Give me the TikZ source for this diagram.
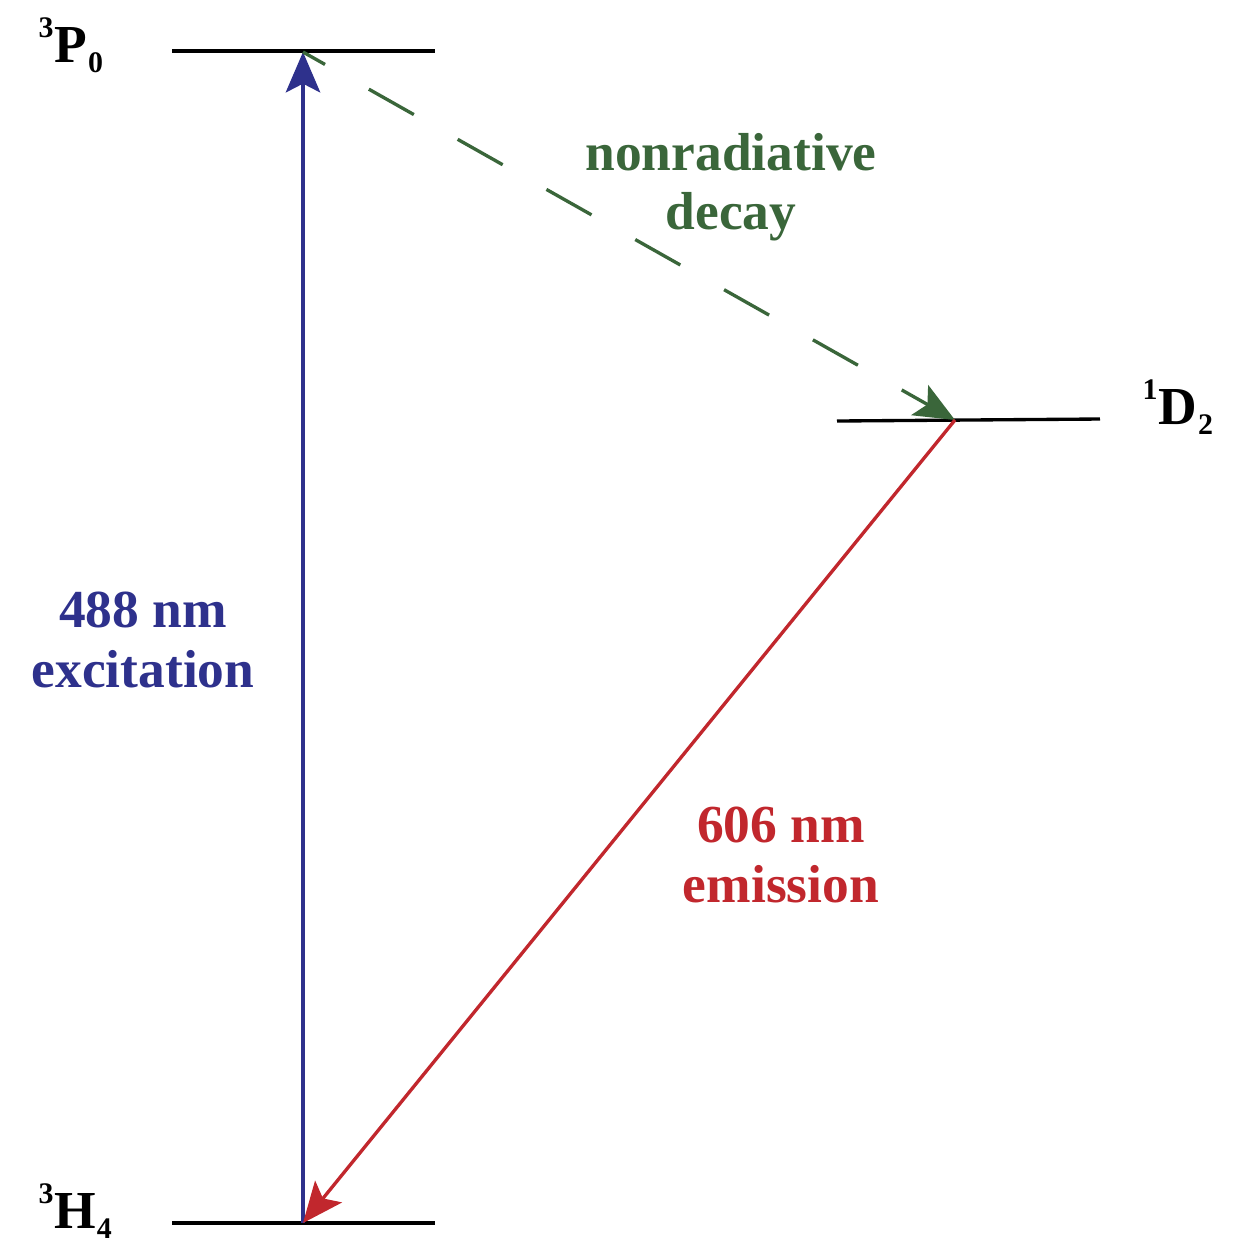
\documentclass[tikz,border=0pt]{standalone}
\usepackage{fontspec}
\setmainfont{Liberation Serif}
\usetikzlibrary{arrows.meta}
\definecolor{exblue}{RGB}{46,49,140}
\definecolor{dkgreen}{RGB}{58,102,58}
\definecolor{emred}{RGB}{193,39,45}
\newcommand\lvlname[3]{\raisebox{7pt}{\fontsize{8.5}{8.5}\selectfont #1}\kern0.3pt#2\kern0.2pt\raisebox{-3pt}{\fontsize{8.5}{8.5}\selectfont #3}}
\begin{document}
\begin{tikzpicture}[x=0.01cm,y=-0.01cm,
  every node/.style={font=\fontsize{15.2}{16.8}\selectfont\bfseries},
  level/.style={line width=0.95pt,black},
  lvllabel/.style={anchor=base west,inner sep=0pt},
  trans/.style={line width=0.95pt},
  tip/.style={-{Stealth[length=11.5pt,width=9.8pt,inset=2.5pt]}},
  lbl/.style={align=center,inner sep=0pt}]
\useasboundingbox (0,0) rectangle (1250,1250);
% level end points
\coordinate (P0l) at (172,51);  \coordinate (P0r) at (435,51);
\coordinate (H4l) at (172,1223); \coordinate (H4r) at (435,1223);
\coordinate (D2l) at (837,421);  \coordinate (D2r) at (1100,419);
\coordinate (P0) at (303,52);
\coordinate (H4) at (303,1223);
\coordinate (D2) at (955,420);
% levels
\draw[level] (P0l) -- (P0r);
\draw[level] (H4l) -- (H4r);
\draw[level] (D2l) -- (D2r);
% level labels
\node[lvllabel] (lP) at (38,62) {\lvlname{3}{P}{0}};
\node[lvllabel] (lD) at (1142,424) {\lvlname{1}{D}{2}};
\node[lvllabel] (lH) at (38,1228) {\lvlname{3}{H}{4}};
% transitions
\draw[trans,exblue,tip] (H4) -- (P0);
\draw[trans,dkgreen,tip,dash pattern=on 14.7pt off 14.3pt,dash phase=7.5pt] (P0) -- (D2);
\draw[trans,emred,tip] (D2) -- (H4);
% labels
\node[lbl,text=dkgreen] (tdecay) at (731,187) {nonradiative\\decay};
\node[lbl,text=exblue] (texc) at (143,640) {488 nm\\excitation};
\node[lbl,text=emred] (temi) at (781,855) {606 nm\\emission};
\end{tikzpicture}
\end{document}
